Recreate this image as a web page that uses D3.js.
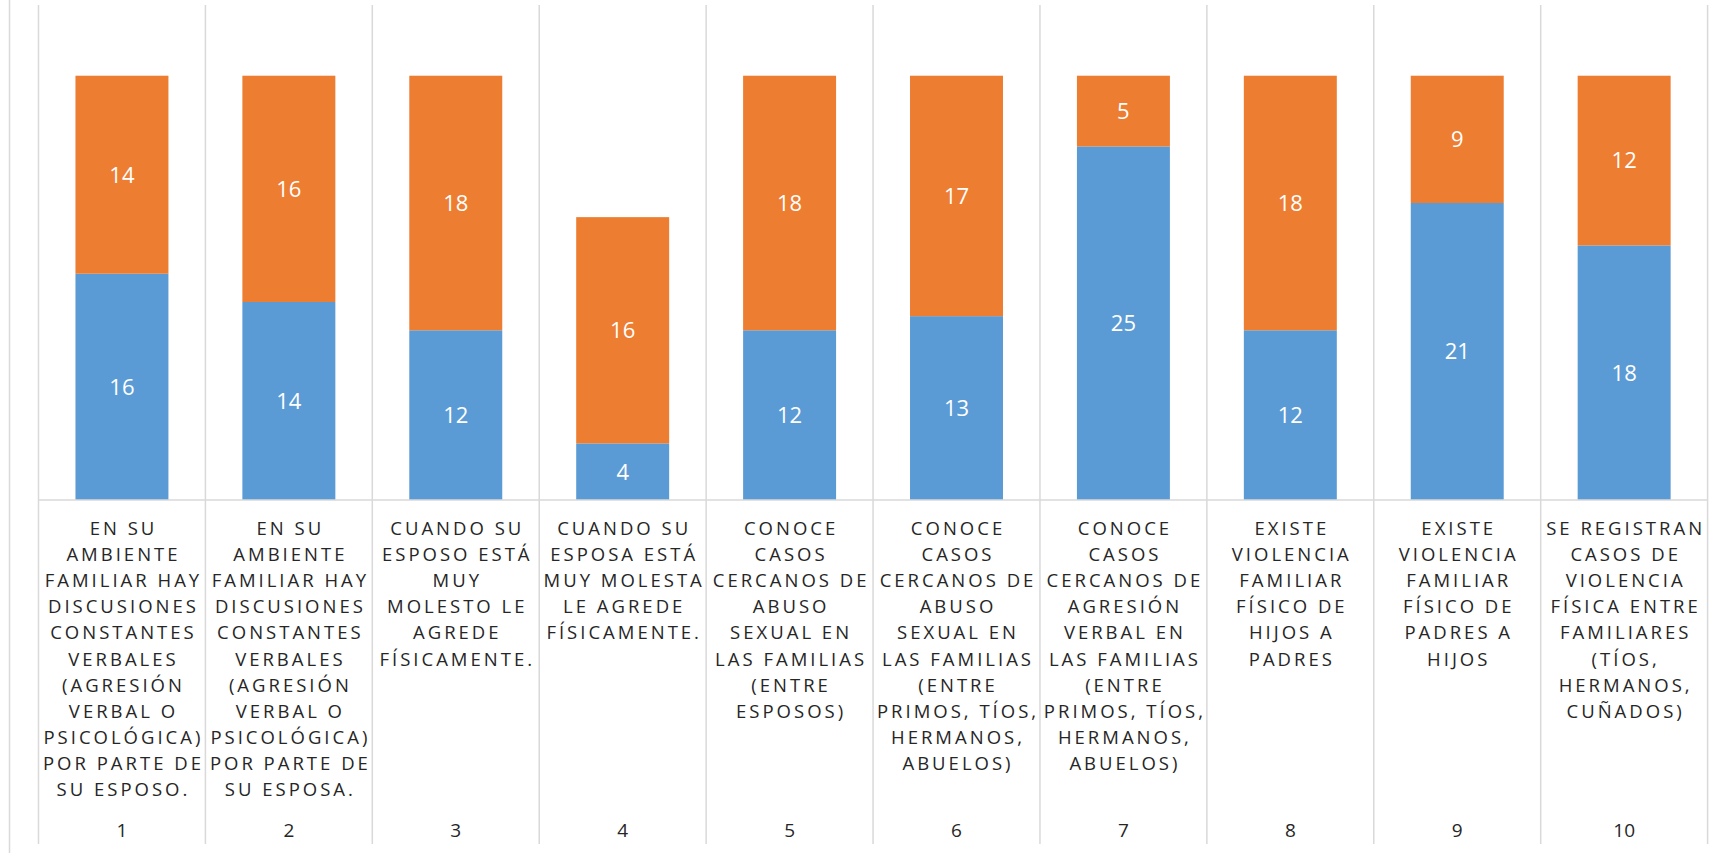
<!DOCTYPE html>
<html>
<head>
<meta charset="utf-8">
<script src="https://cdn.jsdelivr.net/npm/d3@7"></script>
<style>
  body { margin: 0; background: #fff; }
  svg { display: block; }
</style>
</head>
<body>
<svg id="chart"></svg>
<script>
// chart size
const width = 1730;
const height = 853;

const BLUE = "#5B9BD5";
const ORANGE = "#ED7D31";
const GRID = "#D9D9D9";
const TEXT = "#262626";

// data
const categories = ["1", "2", "3", "4", "5", "6", "7", "8", "9", "10"];
const serieBlue = [16, 14, 12, 4, 12, 13, 25, 12, 21, 18];
const serieOrange = [14, 16, 18, 16, 18, 17, 5, 18, 9, 12];
const labelLines = [
  ["EN SU", "AMBIENTE", "FAMILIAR HAY", "DISCUSIONES", "CONSTANTES", "VERBALES", "(AGRESIÓN", "VERBAL O", "PSICOLÓGICA)", "POR PARTE DE", "SU ESPOSO."],
  ["EN SU", "AMBIENTE", "FAMILIAR HAY", "DISCUSIONES", "CONSTANTES", "VERBALES", "(AGRESIÓN", "VERBAL O", "PSICOLÓGICA)", "POR PARTE DE", "SU ESPOSA."],
  ["CUANDO SU", "ESPOSO ESTÁ", "MUY", "MOLESTO LE", "AGREDE", "FÍSICAMENTE."],
  ["CUANDO SU", "ESPOSA ESTÁ", "MUY MOLESTA", "LE AGREDE", "FÍSICAMENTE."],
  ["CONOCE", "CASOS", "CERCANOS DE", "ABUSO", "SEXUAL EN", "LAS FAMILIAS", "(ENTRE", "ESPOSOS)"],
  ["CONOCE", "CASOS", "CERCANOS DE", "ABUSO", "SEXUAL EN", "LAS FAMILIAS", "(ENTRE", "PRIMOS, TÍOS,", "HERMANOS,", "ABUELOS)"],
  ["CONOCE", "CASOS", "CERCANOS DE", "AGRESIÓN", "VERBAL EN", "LAS FAMILIAS", "(ENTRE", "PRIMOS, TÍOS,", "HERMANOS,", "ABUELOS)"],
  ["EXISTE", "VIOLENCIA", "FAMILIAR", "FÍSICO DE", "HIJOS A", "PADRES"],
  ["EXISTE", "VIOLENCIA", "FAMILIAR", "FÍSICO DE", "PADRES A", "HIJOS"],
  ["SE REGISTRAN", "CASOS DE", "VIOLENCIA", "FÍSICA ENTRE", "FAMILIARES", "(TÍOS,", "HERMANOS,", "CUÑADOS)"]
];
const yMax = 35;

const svg = d3.select("#chart")
  .attr("width", width)
  .attr("height", height)
  .style("font-family", "'Open Sans', sans-serif");

const plotLeft = 38.5, plotRight = 1707.6;
const plotTop = 5, baseline = 500, axisBottom = 844;

const x = d3.scaleBand()
  .domain(categories)
  .range([plotLeft, plotRight])
  .paddingInner(0)
  .paddingOuter(0);

const y = d3.scaleLinear()
  .domain([0, yMax])
  .range([baseline, plotTop]);

const barW = x.bandwidth() * 0.557;
const barOff = (x.bandwidth() - barW) / 2;

// outer border on the left
svg.append("line")
  .attr("x1", 9.5).attr("x2", 9.5)
  .attr("y1", 0).attr("y2", height)
  .attr("stroke", GRID).attr("stroke-width", 1.5);

// category separators
const bounds = categories.map(c => x(c)).concat([plotRight]);
svg.selectAll("line.sep")
  .data(bounds)
  .enter()
  .append("line")
  .attr("class", "sep")
  .attr("x1", d => d).attr("x2", d => d)
  .attr("y1", plotTop).attr("y2", axisBottom)
  .attr("stroke", GRID).attr("stroke-width", 1.5);

// stack the two series
const rows = categories.map((c, i) => ({ cat: c, blue: serieBlue[i], orange: serieOrange[i] }));
const stack = d3.stack().keys(["blue", "orange"]);
const layers = stack(rows);
const colors = { blue: BLUE, orange: ORANGE };

const layerG = svg.selectAll("g.layer")
  .data(layers)
  .enter()
  .append("g")
  .attr("class", "layer")
  .attr("fill", d => colors[d.key]);

layerG.selectAll("rect")
  .data(d => d)
  .enter()
  .append("rect")
  .attr("x", d => x(d.data.cat) + barOff)
  .attr("width", barW)
  .attr("y", d => y(d[1]))
  .attr("height", d => y(d[0]) - y(d[1]));

// data labels
layerG.selectAll("text")
  .data(d => d)
  .enter()
  .append("text")
  .attr("x", d => x(d.data.cat) + x.bandwidth() / 2)
  .attr("y", d => (y(d[0]) + y(d[1])) / 2)
  .attr("dy", "0.36em")
  .attr("text-anchor", "middle")
  .attr("fill", "#fff")
  .style("font-size", "22px")
  .text(d => d[1] - d[0]);

// horizontal axis line
svg.append("line")
  .attr("x1", plotLeft).attr("x2", plotRight)
  .attr("y1", baseline).attr("y2", baseline)
  .attr("stroke", GRID).attr("stroke-width", 1.5);

// category labels (text level)
const lblG = svg.selectAll("g.lbl")
  .data(categories)
  .enter()
  .append("g")
  .attr("class", "lbl")
  .attr("transform", d => `translate(${x(d) + x.bandwidth() / 2},0)`);

lblG.each(function(d, i) {
  d3.select(this).selectAll("text")
    .data(labelLines[i])
    .enter()
    .append("text")
    .attr("x", 1.5)
    .attr("y", (t, j) => 535 + j * 26.1)
    .attr("text-anchor", "middle")
    .attr("fill", TEXT)
    .style("font-size", "18.5px")
    .style("letter-spacing", "3px")
    .text(t => t);
});

// category numbers
svg.selectAll("text.num")
  .data(categories)
  .enter()
  .append("text")
  .attr("class", "num")
  .attr("x", d => x(d) + x.bandwidth() / 2)
  .attr("y", 837)
  .attr("text-anchor", "middle")
  .attr("fill", TEXT)
  .style("font-size", "19px")
  .text(d => d);
</script>
</body>
</html>
